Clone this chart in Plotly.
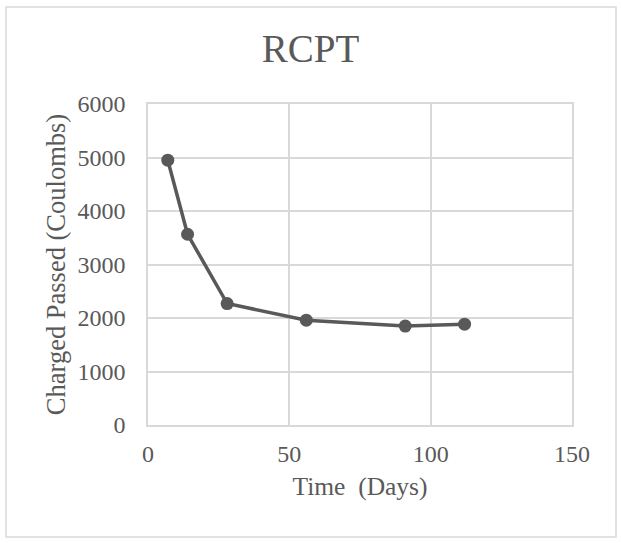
import plotly.graph_objects as go

days = [7, 14, 28, 56, 91, 112]
charge = [4950, 3565, 2270, 1960, 1850, 1885]

x_ticks = [0, 50, 100, 150]
y_ticks = [0, 1000, 2000, 3000, 4000, 5000, 6000]

serif = "Liberation Serif, Times New Roman, serif"
grey = "#595959"
grid = "#d9d9d9"

trace = go.Scatter(x=days, y=charge, mode='lines+markers',
                   line=dict(color=grey, width=3.5),
                   marker=dict(color=grey, size=13))

layout = go.Layout(
    width=621, height=550,
    margin=dict(l=148, r=49, t=104, b=125),
    paper_bgcolor='white', plot_bgcolor='white',
    showlegend=False,
    title=dict(text='RCPT', x=0.5, xref='container', xanchor='center',
               y=1 - 48 / 550, yref='container', yanchor='middle',
               font=dict(family=serif, size=39, color=grey)),
    font=dict(family=serif, color=grey),
    xaxis=dict(range=[0, 150], tickvals=x_ticks, showgrid=True, gridcolor=grid, gridwidth=1.5,
               showline=True, linecolor=grid, linewidth=1.5, mirror=True, zeroline=False,
               ticks='', tickfont=dict(size=24, color=grey), ticklabelstandoff=6,
               title=dict(text='Time  (Days)', font=dict(size=25.5, color=grey), standoff=12)),
    yaxis=dict(range=[0, 6000], tickvals=y_ticks, showgrid=True, gridcolor=grid, gridwidth=1.5,
               showline=True, linecolor=grid, linewidth=1.5, mirror=True, zeroline=False,
               ticks='', tickfont=dict(size=24, color=grey), ticklabelstandoff=16,
               title=dict(text='Charged Passed (Coulombs)', font=dict(size=26.5, color=grey), standoff=4)),
    shapes=[dict(type='rect', xref='paper', yref='paper',
                 x0=(6 - 148) / 424, x1=(616 - 148) / 424,
                 y0=(425 - 537) / 321, y1=(425 - 7) / 321,
                 line=dict(color=grid, width=1.5), layer='below')],
)

fig = go.Figure(data=[trace], layout=layout)
# drop the browser's default body margin so the figure sits at (0, 0)
fig.write_html("out.html", config={'displayModeBar': False},
               post_script="document.body.style.margin='0';")
